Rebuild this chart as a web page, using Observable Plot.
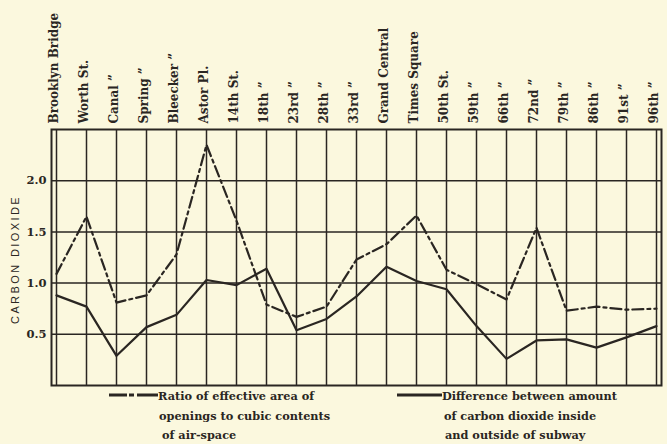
<!DOCTYPE html>
<html><head><meta charset="utf-8">
<script src="https://cdn.jsdelivr.net/npm/d3@7"></script>
<script src="https://cdn.jsdelivr.net/npm/@observablehq/plot@0.6"></script>
<style>
body{margin:0;background:#fbf8de;}
#wrap{position:relative;width:667px;height:444px;overflow:hidden;}
.lg{position:absolute;font-family:"DejaVu Serif",serif;font-weight:bold;font-size:11.3px;line-height:14px;color:#2a2622;white-space:nowrap;}
.sw{position:absolute;}
</style></head><body><div id="wrap"></div>
<script>
const stations = ["Brooklyn Bridge","Worth St.","Canal \u201d","Spring \u201d","Bleecker \u201d","Astor Pl.","14th St.","18th \u201d","23rd \u201d","28th \u201d","33rd \u201d","Grand Central","Times Square","50th St.","59th \u201d","66th \u201d","72nd \u201d","79th \u201d","86th \u201d","91st \u201d","96th \u201d"];
const ratio = [1.09,1.65,0.81,0.88,1.28,2.35,1.61,0.79,0.67,0.77,1.23,1.38,1.66,1.13,0.99,0.84,1.54,0.73,0.77,0.74,0.75];
const difference = [0.88,0.77,0.29,0.57,0.69,1.03,0.98,1.14,0.54,0.65,0.87,1.16,1.02,0.94,0.58,0.26,0.44,0.45,0.37,0.47,0.58];
const yTicks = [0.5,1.0,1.5,2.0];
const yLabel = "CARBON DIOXIDE";
const legendRatio = ["Ratio of effective area of","openings to cubic contents","of air-space"];
const legendDiff = ["Difference between amount","of carbon dioxide inside","and outside of subway"];

const ink = "#2a2622";
const table = stations.map((s,i)=>({station:s, ratio:ratio[i], difference:difference[i]}));
const serif = "DejaVu Serif, serif";

const chart = Plot.plot({
  width:667, height:390,
  marginLeft:51, marginRight:6, marginTop:129, marginBottom:5,
  style:{background:"transparent", color:ink},
  x:{type:"point", domain:stations, padding:0},
  y:{domain:[0,2.5]},
  marks:[
    Plot.ruleX(stations, {stroke:ink, strokeWidth:1.5}),
    Plot.ruleY(yTicks, {stroke:ink, strokeWidth:1.5}),
    Plot.frame({stroke:ink, strokeWidth:2}),
    Plot.lineY(table, {x:"station", y:"ratio", stroke:ink, strokeWidth:2.2, strokeDasharray:"11,4,3,4"}),
    Plot.lineY(table, {x:"station", y:"difference", stroke:ink, strokeWidth:2.2}),
    Plot.axisX({anchor:"top", tickRotate:-90, tickSize:0, tickPadding:6, dx:-2, fontSize:12, fontFamily:serif, fontWeight:"bold", label:null}),
    Plot.axisY(yTicks, {anchor:"left", tickSize:0, tickPadding:5, tickFormat:d3.format(".1f"), fontSize:11.5, fontFamily:serif, fontWeight:"bold", label:null}),
    Plot.text([yLabel], {text:d=>d, frameAnchor:"left", textAnchor:"middle", dx:-36, dy:2, rotate:-90, fontSize:11, fontFamily:"Liberation Sans, sans-serif", fill:ink})
  ]
});
d3.select(chart).selectAll("text").filter(function(){return this.textContent===yLabel;}).style("letter-spacing","2.4px");
const wrap = document.getElementById("wrap");
wrap.appendChild(chart);
chart.style.position="absolute"; chart.style.left="0"; chart.style.top="0";

function swatch(left, width, top, dash){
  const s = d3.create("svg").attr("class","sw").attr("width",width).attr("height",6)
    .style("left",left+"px").style("top",(top-3)+"px");
  s.append("line").attr("x1",0).attr("x2",width).attr("y1",3).attr("y2",3)
    .attr("stroke",ink).attr("stroke-width",3.2).attr("stroke-dasharray",dash);
  wrap.appendChild(s.node());
}
function lines(arr, lefts, tops){
  arr.forEach((t,i)=>{
    const d=document.createElement("div"); d.className="lg"; d.textContent=t;
    d.style.left=lefts[i]+"px"; d.style.top=(tops[i]-7)+"px"; wrap.appendChild(d);
  });
}
swatch(109, 49, 395, "18,2,5,3,21");
lines(legendRatio, [158,159,162], [396,416,435]);
swatch(397, 45, 395, null);
lines(legendDiff, [442,444,445], [396,416,435]);
</script></body></html>
